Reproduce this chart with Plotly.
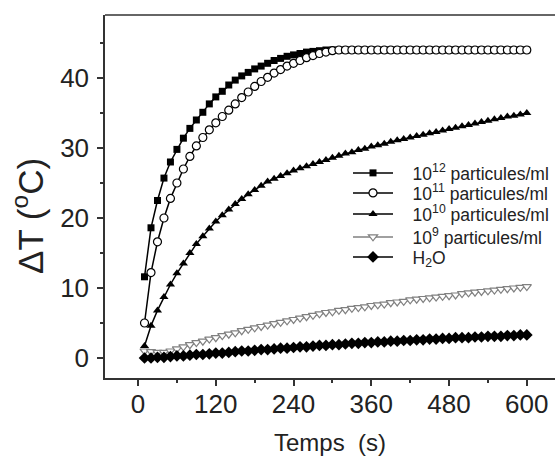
import plotly.graph_objects as go

# time (s)
t = [10 * i for i in range(1, 61)]

v12 = [11.6, 18.6, 22.5, 25.7, 28.0, 29.8, 31.4, 32.8, 34.0, 35.1,
       36.3, 37.3, 38.1, 39.0, 39.7, 40.3, 40.8, 41.3, 41.7, 42.1,
       42.5, 42.8, 43.1, 43.3, 43.5, 43.7, 43.8, 43.9, 44.0, 44.0,
       44.0, 44.0, 44.0, 44.0, 44.0, 44.0, 44.0, 44.0, 44.0, 44.0,
       44.0, 44.0, 44.0, 44.0, 44.0, 44.0, 44.0, 44.0, 44.0, 44.0,
       44.0, 44.0, 44.0, 44.0, 44.0, 44.0, 44.0, 44.0, 44.0, 44.0]

v11 = [5.0, 12.2, 16.6, 20.0, 22.8, 25.0, 27.0, 28.8, 30.3, 31.5,
       32.6, 33.6, 34.5, 35.4, 36.3, 37.2, 38.0, 38.8, 39.5, 40.1,
       40.7, 41.2, 41.7, 42.1, 42.5, 42.9, 43.2, 43.5, 43.7, 43.9,
       44.0, 44.0, 44.0, 44.0, 44.0, 44.0, 44.0, 44.0, 44.0, 44.0,
       44.0, 44.0, 44.0, 44.0, 44.0, 44.0, 44.0, 44.0, 44.0, 44.0,
       44.0, 44.0, 44.0, 44.0, 44.0, 44.0, 44.0, 44.0, 44.0, 44.0]

v10 = [1.7, 4.6, 6.8, 8.7, 10.5, 12.1, 13.5, 15.0, 16.3, 17.4,
       18.5, 19.5, 20.4, 21.2, 22.0, 22.7, 23.4, 24.0, 24.6, 25.2,
       25.6, 26.0, 26.4, 26.8, 27.1, 27.4, 27.7, 28.0, 28.3, 28.6,
       28.9, 29.2, 29.4, 29.7, 29.9, 30.2, 30.4, 30.6, 30.9, 31.1,
       31.3, 31.5, 31.7, 31.9, 32.1, 32.3, 32.5, 32.7, 32.9, 33.1,
       33.3, 33.5, 33.7, 33.9, 34.1, 34.3, 34.5, 34.6, 34.8, 35.0]

v9 = [1.0, 0.9, 0.8, 0.8, 1.0, 1.3, 1.6, 1.9, 2.2, 2.4,
      2.7, 2.9, 3.2, 3.4, 3.6, 3.9, 4.1, 4.3, 4.5, 4.7,
      4.9, 5.1, 5.3, 5.5, 5.7, 5.9, 6.1, 6.3, 6.5, 6.6,
      6.8, 6.9, 7.1, 7.2, 7.3, 7.5, 7.6, 7.7, 7.9, 8.0,
      8.1, 8.3, 8.4, 8.5, 8.6, 8.7, 8.8, 8.9, 9.0, 9.2,
      9.3, 9.4, 9.5, 9.6, 9.7, 9.8, 9.9, 10.0, 10.1, 10.2]

vh2o = [0.0, 0.0, 0.1, 0.1, 0.2, 0.3, 0.3, 0.4, 0.5, 0.5,
        0.6, 0.7, 0.7, 0.8, 0.9, 1.0, 1.0, 1.1, 1.2, 1.2,
        1.3, 1.4, 1.4, 1.5, 1.6, 1.6, 1.7, 1.8, 1.8, 1.9,
        1.9, 2.0, 2.1, 2.1, 2.2, 2.2, 2.3, 2.3, 2.4, 2.4,
        2.5, 2.5, 2.6, 2.6, 2.7, 2.7, 2.8, 2.8, 2.9, 2.9,
        2.9, 3.0, 3.0, 3.1, 3.1, 3.1, 3.2, 3.2, 3.3, 3.3]

names = ["10<sup>12</sup> particules/ml",
         "10<sup>11</sup> particules/ml",
         "10<sup>10</sup> particules/ml",
         "10<sup>9</sup> particules/ml",
         "H<sub>2</sub>O"]

x_ticks = [0, 120, 240, 360, 480, 600]
y_ticks = [0, 10, 20, 30, 40]

fig = go.Figure()

series = [
    (v12, dict(symbol="square", size=7, color="black"), "black"),
    (v11, dict(symbol="circle", size=8, color="white", line=dict(color="black", width=1.2)), "black"),
    (v10, dict(symbol="triangle-up", size=8, color="black"), "black"),
    (v9, dict(symbol="triangle-down", size=8, color="white", line=dict(color="#808080", width=1.2)), "#808080"),
    (vh2o, dict(symbol="diamond", size=9, color="black"), "black"),
]

legend_ids = ["legend", "legend2", "legend3", "legend4", "legend5"]
row_px = [173, 193, 214, 237, 257]  # legend row centers (pixels from top)

pad = "\u00a0\u00a0\u00a0"
for name, lid, (vals, mk, lc) in zip(names, legend_ids, series):
    fig.add_trace(go.Scatter(x=t, y=vals, name=pad + name, mode="lines+markers",
                             line=dict(color=lc, width=1.5), marker=mk,
                             cliponaxis=False, legend=lid))

fig.add_shape(type="line", xref="paper", yref="paper", x0=0, x1=1, y0=1, y1=1,
              line=dict(color="#333", width=1.5))

plot_top, plot_bottom, plot_left, plot_w = 15, 378, 105, 450
plot_h = plot_bottom - plot_top
legend_layout = {}
for lid, py in zip(legend_ids, row_px):
    legend_layout[lid] = dict(x=(348 - plot_left) / plot_w,
                              y=(plot_bottom - py) / plot_h,
                              xanchor="left", yanchor="middle",
                              font=dict(size=17.5, color="#222"),
                              bgcolor="rgba(0,0,0,0)", itemwidth=40)

fig.add_annotation(text="\u0394T (<sup>o</sup>C)", xref="paper", yref="paper",
                   x=(28 - plot_left) / plot_w, y=(plot_bottom - 216) / plot_h,
                   xanchor="center", yanchor="middle", textangle=-90,
                   showarrow=False, font=dict(size=35, color="#222"))

fig.update_layout(
    width=555, height=456,
    margin=dict(l=105, r=0, t=15, b=78, autoexpand=False),
    paper_bgcolor="white", plot_bgcolor="white",
    font=dict(family="Liberation Sans, Arial, sans-serif", color="#222"),
    showlegend=True,
    **legend_layout,
    xaxis=dict(range=[-51, 643.5], tickvals=x_ticks, ticks="outside", ticklen=6,
               tickwidth=1.5, tickcolor="#333", showline=True, linecolor="#333",
               linewidth=1.5, showgrid=False, zeroline=False, automargin=False,
               tickfont=dict(size=26), ticklabelstandoff=-4,
               minor=dict(tickvals=[60, 180, 300, 420, 540], ticks="outside",
                          ticklen=3, tickwidth=1.5, tickcolor="#333"),
               title=dict(text="Temps\u00a0 (s)", font=dict(size=24), standoff=16)),
    yaxis=dict(range=[-2.86, 49], tickvals=y_ticks, ticks="outside", ticklen=6,
               tickwidth=1.5, tickcolor="#333", showline=True, linecolor="#333",
               linewidth=1.5, showgrid=False, zeroline=False, automargin=False,
               tickfont=dict(size=26), ticklabelstandoff=3,
               minor=dict(tickvals=[5, 15, 25, 35, 45], ticks="outside",
                          ticklen=3, tickwidth=1.5, tickcolor="#333")),
)

fig.write_html("out.html", config={"displayModeBar": False},
               post_script="document.body.style.margin='0';")
